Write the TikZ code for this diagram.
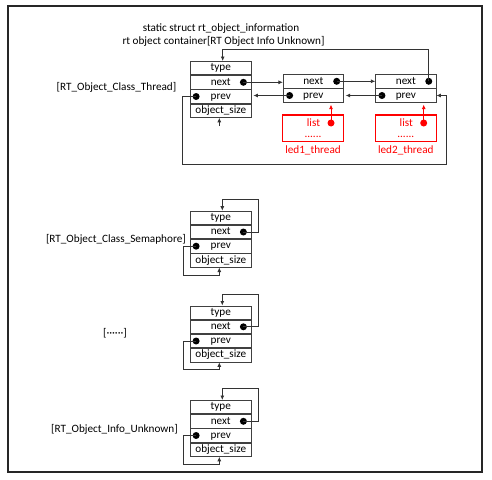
\documentclass[tikz,border=0pt]{standalone}
\usepackage{fontspec}
\setmainfont{Carlito}
\usetikzlibrary{arrows.meta}
\tikzset{
  txt/.style={inner sep=0pt, text height=8pt, text depth=2.5pt, font=\fontsize{11.2}{12}\selectfont},
  cell/.style={txt, draw=black!75, line width=0.8pt, minimum width=60.5pt, minimum height=13.4pt, anchor=north},
  dot/.style={circle, fill=black, inner sep=0pt, minimum size=7pt},
  rdot/.style={circle, fill=red, inner sep=0pt, minimum size=7pt},
  conn/.style={draw=black!80, line width=0.8pt, -{Latex[length=4.5pt,width=4pt]}},
  rconn/.style={draw=red, line width=0.8pt, -{Latex[length=4.5pt,width=4pt]}},
  redtxt/.style={txt, text=red},
  redbox/.style={draw=red, line width=1.1pt, minimum width=60.6pt, minimum height=26.7pt, inner sep=0pt}
}
\newcommand\mkstruct[2]{%
  \node[cell] (#1type) at (220.75,#2) {type};
  \node[cell] (#1next) at (#1type.south) {next};
  \node[cell] (#1prev) at (#1next.south) {prev};
  \node[cell] (#1size) at (#1prev.south) {object\_size};
  \node[dot] (#1dn) at ([xshift=-8pt]#1next.east) {};
  \node[dot] (#1dp) at ([xshift=6pt]#1prev.west) {};
}
\newcommand\mkloop[2]{%
  \coordinate (#1a) at (258.3,#2-11.4);
  \coordinate (#1b) at (222.3,#2-11.4);
  \coordinate (#1c) at (183.3,#2+64.3);
  \coordinate (#1d) at (219.3,#2+64.3);
  \draw[conn] (#1dn.center) -| (#1a) -- (#1b) -- (#1b |- #1type.north);
  \draw[conn] (#1dp.center) -| (#1c) -- (#1d) -- (#1d |- #1size.south);
}
\begin{document}
\begin{tikzpicture}[x=1pt,y=-1pt]
\useasboundingbox (0,0) rectangle (492,479);
\draw[line width=1.3pt, black!85] (8,6) rectangle (482,472);

% title
\node[txt] (title1) at (221,28.7) {static struct rt\_object\_information};
\node[txt] (title2) at (223.5,42) {rt object container[RT Object Info Unknown]};

% thread list
\mkstruct{A}{61}
\node[txt, anchor=east] (labA) at (176.5,88) {[RT\_Object\_Class\_Thread]};

\node[cell, minimum width=60pt] (Bnext) at (313.3,74.2) {next};
\node[cell, minimum width=60pt] (Bprev) at (Bnext.south) {prev};
\node[dot] (Bdn) at ([xshift=-7pt]Bnext.east) {};
\node[dot] (Bdp) at ([xshift=6.7pt]Bprev.west) {};

\node[cell, minimum width=60.3pt] (Cnext) at (405.9,74.2) {next};
\node[cell, minimum width=60.3pt] (Cprev) at (Cnext.south) {prev};
\node[dot] (Cdn) at ([xshift=-7.7pt]Cnext.east) {};
\node[dot] (Cdp) at ([xshift=6.6pt]Cprev.west) {};

\draw[conn] (Adn.center) -- (Adn.center -| Bnext.west);
\draw[conn] (Bdn.center) -- (Bdn.center -| Cnext.west);
\draw[conn] (Bdp.center) -- ([xshift=2pt]Bdp.center -| Aprev.east);
\draw[conn] (Cdp.center) -- ([xshift=2pt]Cdp.center -| Bprev.east);

\coordinate (topA) at (222.7,49.3);
\draw[conn] (Cdn.center) |- (topA) -- (topA |- Atype.north);

\coordinate (lpA) at (182.7,164.3);
\coordinate (lpB) at (446.7,164.3);
\draw[conn] (Adp.center) -| (lpA) -- (lpB) |- (Cprev.east);

\coordinate (upA) at (219.3,126);
\draw[conn] (upA) -- (upA |- Asize.south);

% led threads
\node[redbox] (led1) at (313,128.3) {};
\node[redtxt] (led1list) at (313.5,123.5) {list};
\node[redtxt] (led1dots) at (313,134.5) {......};
\node[rdot] (led1d) at (331,123) {};
\node[redtxt] (led1lab) at (313,150.7) {led1\_thread};
\draw[rconn] (led1d.center) -- ([yshift=-2pt]led1d.center |- Bprev.south);

\node[redbox] (led2) at (405.8,128.3) {};
\node[redtxt] (led2list) at (406.3,123.5) {list};
\node[redtxt] (led2dots) at (405.8,134.5) {......};
\node[rdot] (led2d) at (423.7,123) {};
\node[redtxt] (led2lab) at (405.8,150.7) {led2\_thread};
\draw[rconn] (led2d.center) -- ([yshift=-2pt]led2d.center |- Cprev.south);

% semaphore
\mkstruct{S}{210.7}
\mkloop{S}{210.7}
\node[txt, anchor=east] (labS) at (186,239.3) {[RT\_Object\_Class\_Semaphore]};

% others
\mkstruct{D}{305.5}
\mkloop{D}{305.5}
\node[txt] (labD) at (115,333.3) {[······]};

% unknown
\mkstruct{U}{400}
\mkloop{U}{400}
\node[txt, anchor=east] (labU) at (178,429.3) {[RT\_Object\_Info\_Unknown]};
\end{tikzpicture}
\end{document}
